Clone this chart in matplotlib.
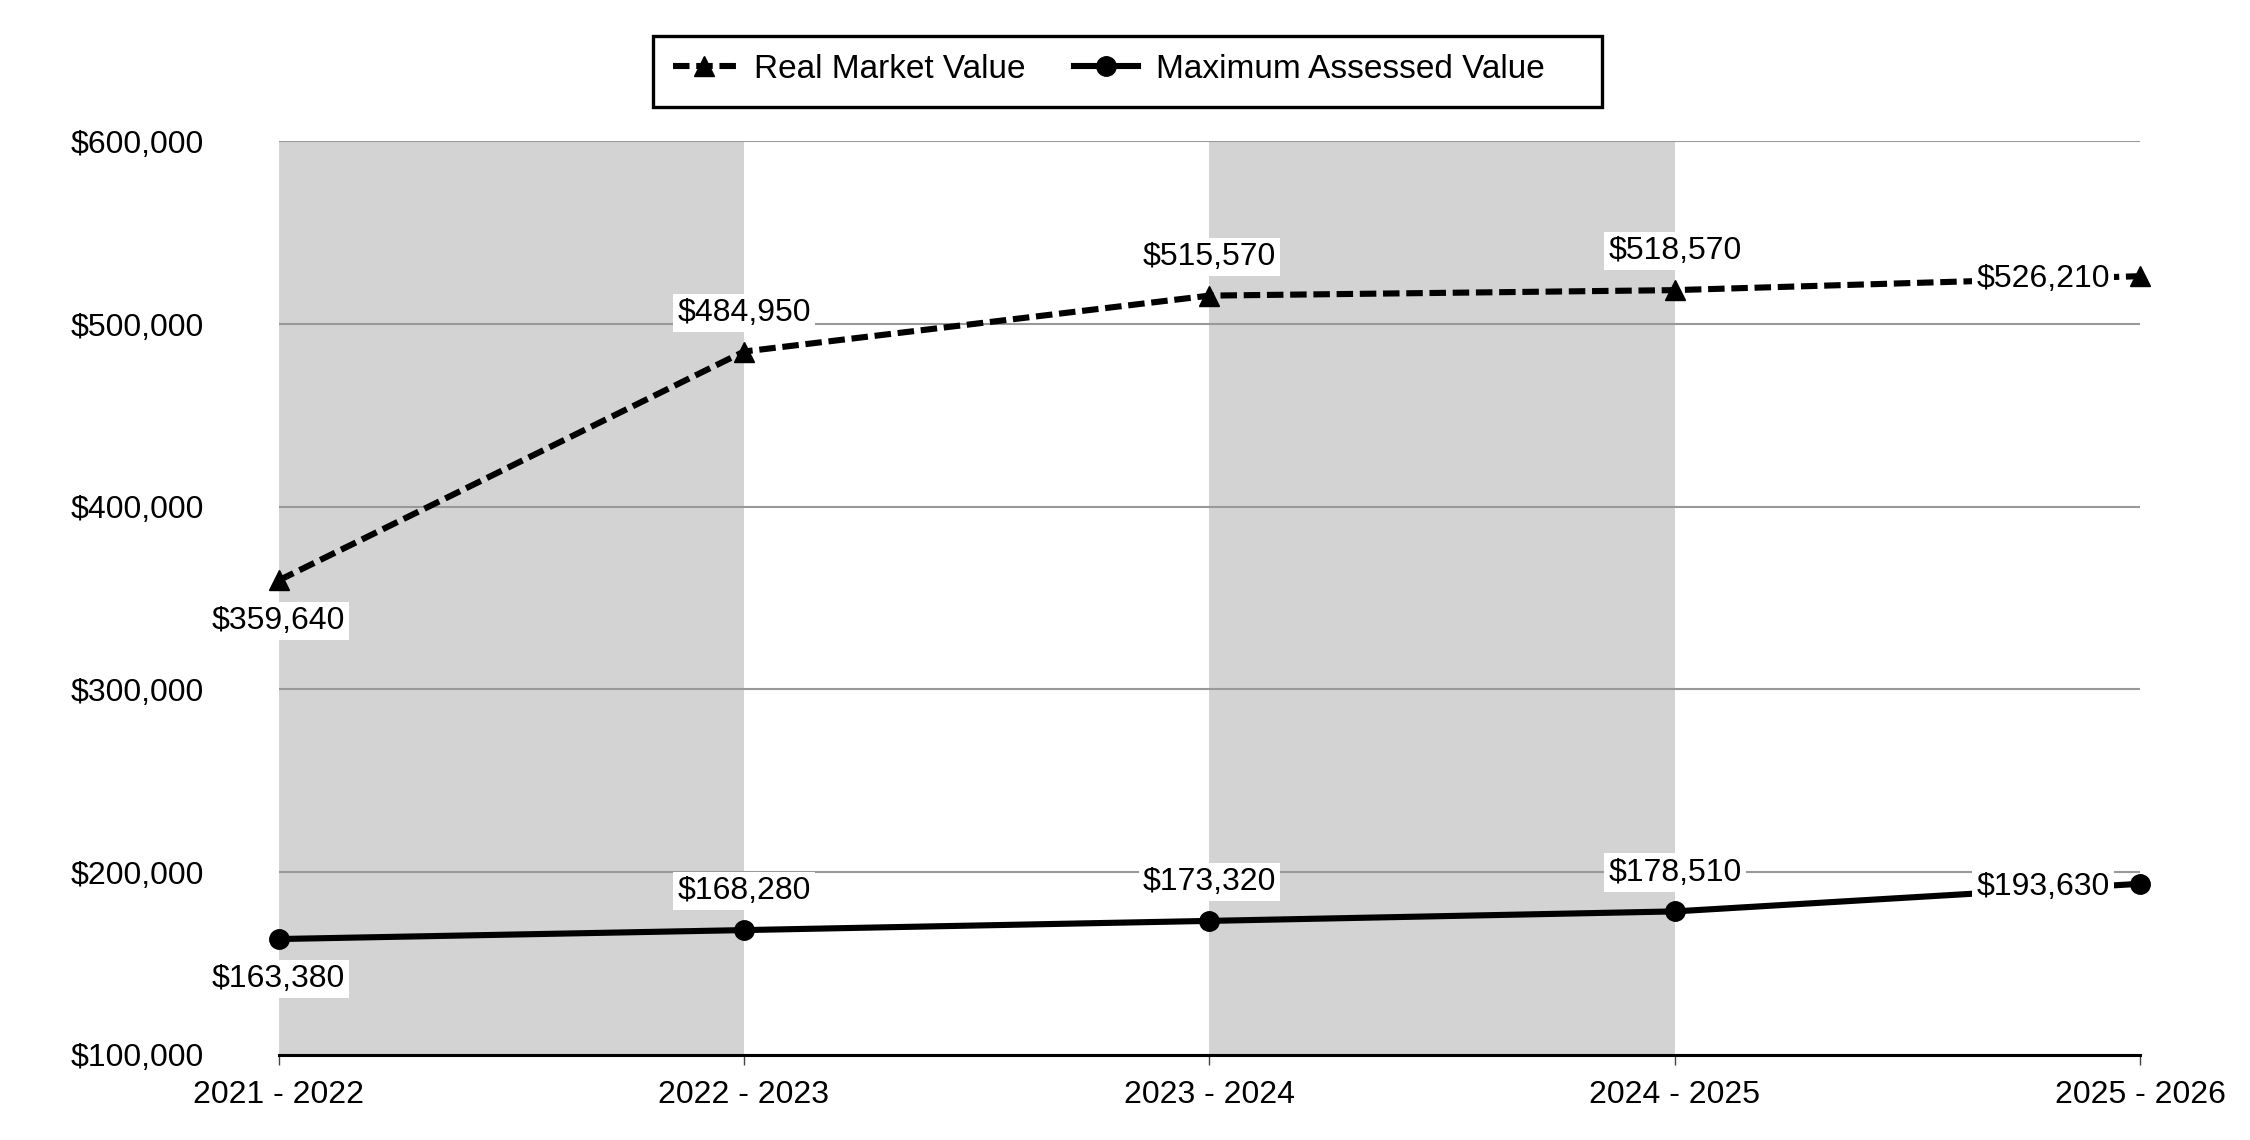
import matplotlib.pyplot as plt
from matplotlib.ticker import FuncFormatter
from matplotlib.patches import Rectangle

years = ["2021 - 2022", "2022 - 2023", "2023 - 2024", "2024 - 2025", "2025 - 2026"]
real_market = [359640, 484950, 515570, 518570, 526210]
max_assessed = [163380, 168280, 173320, 178510, 193630]
yticks = [100000, 200000, 300000, 400000, 500000, 600000]

# where each label sits relative to its point
rmv_pos = ["below", "above", "above", "above", "left"]
mav_pos = ["below", "above", "above", "above", "left"]

plt.rcParams.update({
    'font.family': ['Liberation Sans', 'DejaVu Sans'],
    'font.size': 23,
})

fig, ax = plt.subplots(figsize=(22.5, 11.4), dpi=100)
plt.subplots_adjust(left=0.1238, right=0.9512, bottom=0.0747, top=0.876)

x = list(range(len(years)))

# alternating shaded columns
for i in range(0, len(years) - 1, 2):
    ax.axvspan(x[i], x[i + 1], color="#d3d3d3", zorder=0.2, lw=0)

ax.plot(x, real_market, color="black", lw=4.4, dashes=(2.7, 1.1), marker="^",
        markersize=15, label="Real Market Value", zorder=3, clip_on=False)
ax.plot(x, max_assessed, color="black", lw=4.4, marker="o",
        markersize=14, label="Maximum Assessed Value", zorder=3, clip_on=False)


def put_labels(vals, pos):
    for xi, v, p in zip(x, vals, pos):
        if p == "below":
            off, ha = (0, -29), "center"
        elif p == "above":
            off, ha = (0, 28), "center"
        else:
            off, ha = (-22, -2), "right"
        ax.annotate("${:,.0f}".format(v), (xi, v), xytext=off, textcoords="offset points",
                    ha=ha, va="center", fontsize=23, zorder=5,
                    bbox=dict(facecolor="white", edgecolor="none", pad=3))


put_labels(real_market, rmv_pos)
put_labels(max_assessed, mav_pos)

ax.set_xlim(x[0], x[-1])
ax.set_ylim(yticks[0], yticks[-1])
ax.set_yticks(yticks)
ax.yaxis.set_major_formatter(FuncFormatter(lambda v, p: "${:,.0f}".format(v)))
ax.set_xticks(x)
ax.set_xticklabels(years)

ax.set_axisbelow(True)
ax.grid(axis="y", color="#999999", lw=1.5)
for s in ["left", "right", "top"]:
    ax.spines[s].set_visible(False)
ax.spines["bottom"].set_linewidth(2.2)
ax.spines["bottom"].set_zorder(4)

ax.tick_params(axis="y", length=0, pad=54)
ax.tick_params(axis="x", length=7, width=1, pad=11, color="#444444")

# legend without its own frame, box drawn separately
leg = fig.legend(ncol=2, loc="center left", bbox_to_anchor=(0.299, 0.939), frameon=False,
                 fontsize=24, columnspacing=1.45, handlelength=1.9, borderpad=0,
                 borderaxespad=0, handletextpad=0.55)
fig.patches.append(Rectangle((0.2904, 0.9063), 0.4215, 0.062, transform=fig.transFigure,
                             fill=False, edgecolor="black", lw=2.4))

plt.savefig("out.png", dpi=100)
